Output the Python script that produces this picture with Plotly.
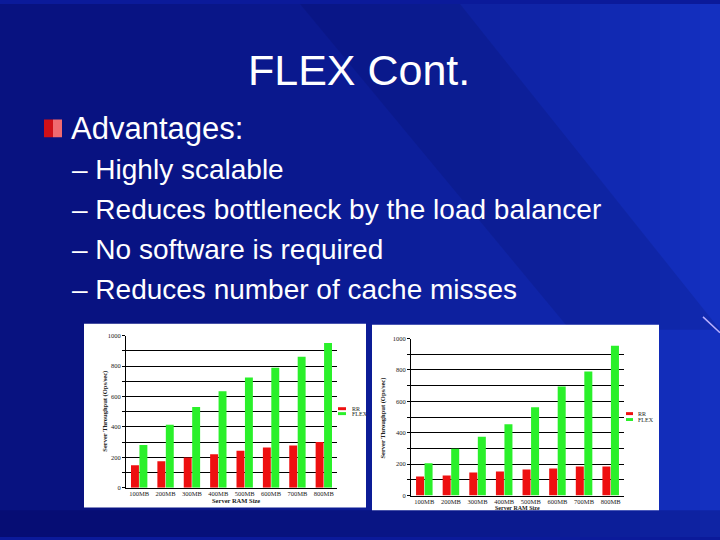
import plotly.graph_objects as go

# ---------------- data ----------------
categories = ["100MB", "200MB", "300MB", "400MB", "500MB", "600MB", "700MB", "800MB"]
left_rr = [147, 173, 199, 219, 242, 264, 277, 301]
left_flex = [281, 413, 530, 634, 725, 788, 861, 952]
right_rr = [122, 128, 147, 153, 166, 172, 185, 185]
right_flex = [206, 298, 374, 454, 563, 695, 790, 954]
y_tickvals = [0, 100, 200, 300, 400, 500, 600, 700, 800, 900, 1000]
y_ticktext = ["0", "", "200", "", "400", "", "600", "", "800", "", "1000"]
series_names = ["RR", "FLEX"]

slide_title = "FLEX Cont."
main_bullet = "Advantages:"
sub_bullets = [
    "\u2013 Highly scalable",
    "\u2013 Reduces bottleneck by the load balancer",
    "\u2013 No software is required",
    "\u2013 Reduces number of cache misses",
]

W, H = 720, 540
RED = "#ee1010"
GREEN = "#2af02a"
SERIF = "Liberation Serif, Times New Roman, serif"
SANS = "Liberation Sans, Arial, sans-serif"


def px(x):
    return x / W


def py(y):
    return 1 - y / H


fig = go.Figure()

# bars
for vals, name, color, ax in [
    (left_rr, series_names[0], RED, ("x", "y")),
    (left_flex, series_names[1], GREEN, ("x", "y")),
    (right_rr, series_names[0], RED, ("x2", "y2")),
    (right_flex, series_names[1], GREEN, ("x2", "y2")),
]:
    fig.add_trace(go.Bar(
        x=categories, y=vals, name=name, marker=dict(color=color, line=dict(width=0)),
        xaxis=ax[0], yaxis=ax[1], showlegend=False,
    ))

# ---------------- background ----------------
shapes = []
n = 36
c0 = (8, 18, 128)
c1 = (20, 48, 192)
for i in range(n):
    t = i / (n - 1)
    t2 = t ** 1.6
    r = int(c0[0] + (c1[0] - c0[0]) * t2)
    g = int(c0[1] + (c1[1] - c0[1]) * t2)
    b = int(c0[2] + (c1[2] - c0[2]) * t2)
    shapes.append(dict(type="rect", xref="paper", yref="paper",
                       x0=i / n, x1=(i + 1) / n + 0.002, y0=0, y1=1,
                       fillcolor=f"rgb({r},{g},{b})", line=dict(width=0), layer="below"))
shapes.append(dict(type="path", xref="paper", yref="paper",
                   path=f"M {px(300)},{py(0)} L {px(460)},{py(0)} L {px(720)},{py(330)} L {px(570)},{py(330)} Z",
                   fillcolor="rgba(0,0,60,0.12)", line=dict(width=0), layer="below"))
shapes.append(dict(type="rect", xref="paper", yref="paper", x0=0, x1=1, y0=0, y1=py(513),
                   fillcolor="rgba(0,0,80,0.25)", line=dict(width=0), layer="below"))
shapes.append(dict(type="line", xref="paper", yref="paper",
                   x0=px(703), y0=py(317), x1=px(720), y1=py(333),
                   line=dict(color="#b8b0ff", width=1.5)))
# white chart backgrounds
shapes.append(dict(type="rect", xref="paper", yref="paper",
                   x0=px(84), x1=px(366), y0=py(510), y1=py(324),
                   fillcolor="white", line=dict(width=0), layer="below"))
shapes.append(dict(type="rect", xref="paper", yref="paper",
                   x0=px(372), x1=px(659), y0=py(513), y1=py(325),
                   fillcolor="white", line=dict(width=0), layer="below"))
# red bullet square (two-tone gradient)
shapes.append(dict(type="rect", xref="paper", yref="paper",
                   x0=px(44), x1=px(53), y0=py(135), y1=py(117),
                   fillcolor="#d01018", line=dict(width=0)))
shapes.append(dict(type="rect", xref="paper", yref="paper",
                   x0=px(53), x1=px(62), y0=py(135), y1=py(117),
                   fillcolor="#f06a70", line=dict(width=0)))

# ---------------- text ----------------
annotations = [
    dict(text=slide_title, x=px(359), y=py(67), xref="paper", yref="paper",
         showarrow=False, font=dict(family=SANS, size=43, color="white"),
         xanchor="center", yanchor="middle"),
    dict(text=main_bullet, x=px(69), y=py(126), xref="paper", yref="paper",
         showarrow=False, font=dict(family=SANS, size=31, color="white"),
         xanchor="left", yanchor="middle"),
]
for i, t in enumerate(sub_bullets):
    annotations.append(dict(text=t, x=px(70), y=py(168 + i * 40.5), xref="paper", yref="paper",
                            showarrow=False, font=dict(family=SANS, size=28, color="white"),
                            xanchor="left", yanchor="middle"))

axis_font = dict(family=SERIF, size=6.5, color="#222222")
annotations += [
    dict(text="<b>Server Throughput (Ops/sec)</b>", x=px(105), y=py(413), xref="paper", yref="paper",
         showarrow=False, textangle=-90, font=axis_font, xanchor="center", yanchor="middle"),
    dict(text="<b>Server RAM Size</b>", x=px(236), y=py(503), xref="paper", yref="paper",
         showarrow=False, font=axis_font, xanchor="center", yanchor="middle"),
    dict(text="<b>Server Throughput (Ops/sec)</b>", x=px(383), y=py(420), xref="paper", yref="paper",
         showarrow=False, textangle=-90, font=axis_font, xanchor="center", yanchor="middle"),
    dict(text="<b>Server RAM Size</b>", x=px(517), y=py(510.5), xref="paper", yref="paper",
         showarrow=False, font=dict(family=SERIF, size=6, color="#222222"),
         xanchor="center", yanchor="middle"),
]

# compact legends (keys + labels) beside each chart
legend_font = dict(family=SERIF, size=6, color="#222222")
for (kx0, kx1, tx, ys) in [(338, 346, 350, (410, 415)), (626, 633, 636, (415, 421))]:
    for name, color, yy in zip(series_names, [RED, GREEN], ys):
        shapes.append(dict(type="rect", xref="paper", yref="paper",
                           x0=px(kx0), x1=px(kx1), y0=py(yy + 1.5), y1=py(yy - 1.5),
                           fillcolor=color, line=dict(width=0)))
        annotations.append(dict(text=name, x=px(tx), y=py(yy), xref="paper", yref="paper",
                                showarrow=False, font=legend_font,
                                xanchor="left", yanchor="middle"))

tick_font = dict(family=SERIF, size=6.5, color="#222222")


def xaxis_cfg(domain, anchor):
    return dict(domain=domain, anchor=anchor, showline=True, linecolor="black", linewidth=1,
                ticks="", showgrid=False, tickfont=tick_font, tickangle=0,
                fixedrange=True)


def yaxis_cfg(domain, anchor):
    return dict(domain=domain, anchor=anchor, range=[0, 1000], showline=True, linecolor="black",
                linewidth=1, tickvals=y_tickvals, ticktext=y_ticktext, ticks="outside",
                ticklen=3, tickcolor="black", showgrid=True, gridcolor="black", gridwidth=1.2,
                zeroline=False, tickfont=tick_font, fixedrange=True)


fig.update_layout(
    width=W, height=H,
    margin=dict(l=0, r=0, t=0, b=0),
    paper_bgcolor="#0b1a9a",
    plot_bgcolor="white",
    barmode="group",
    bargap=0.36,
    bargroupgap=0.06,
    showlegend=False,
    hovermode=False,
    xaxis=xaxis_cfg([px(126), px(337)], "y"),
    yaxis=yaxis_cfg([py(490), py(336)], "x"),
    xaxis2=xaxis_cfg([px(411), px(624)], "y2"),
    yaxis2=yaxis_cfg([py(498), py(339)], "x2"),
    shapes=shapes,
    annotations=annotations,
)

fig.write_html("out.html", config={"displayModeBar": False},
               post_script="document.body.style.margin='0';")
